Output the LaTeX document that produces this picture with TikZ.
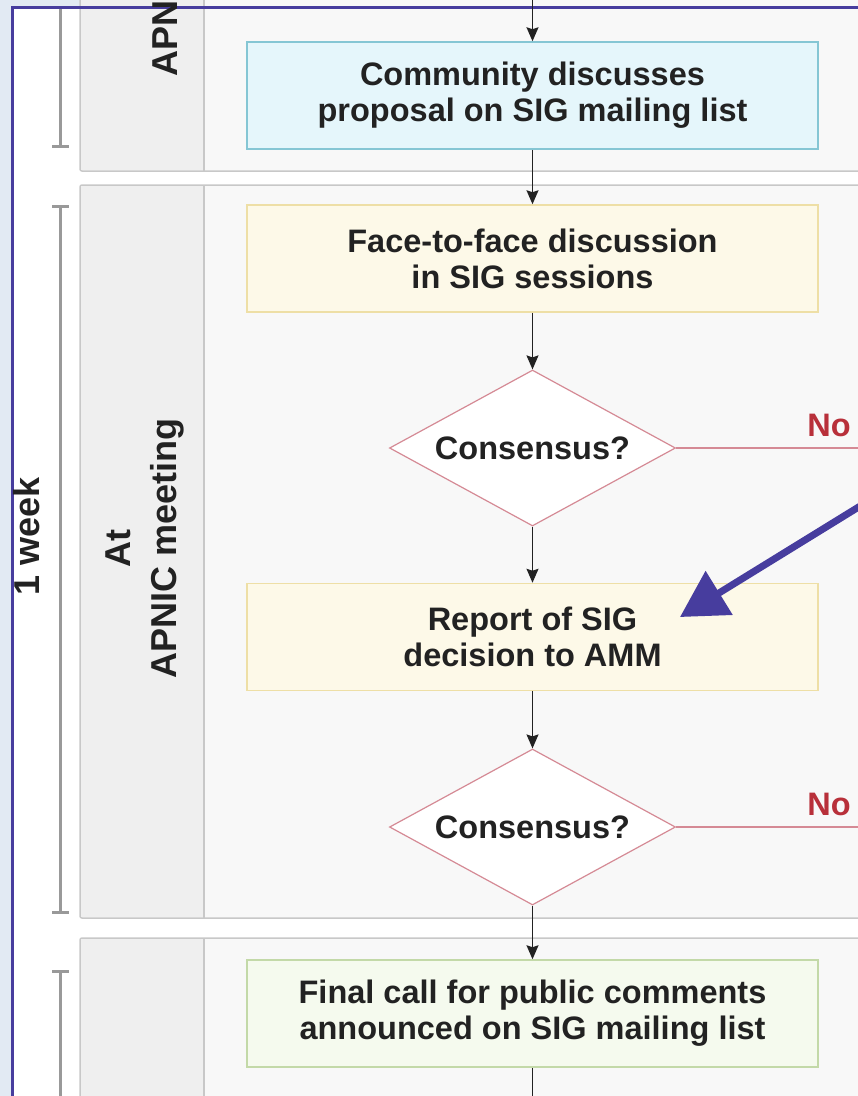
\documentclass[tikz,border=0pt]{standalone}
\usepackage{fontspec}
\setmainfont{Liberation Sans}
\usetikzlibrary{positioning, shapes.geometric, arrows.meta}

\definecolor{ink}{HTML}{222222}
\definecolor{outside}{HTML}{E2EAF3}
\definecolor{frameblue}{HTML}{473D9E}
\definecolor{lanegray}{HTML}{F8F8F8}
\definecolor{labelgray}{HTML}{EFEFEF}
\definecolor{lineg}{HTML}{C8C8C8}
\definecolor{bluefill}{HTML}{E5F6FB}
\definecolor{bluedraw}{HTML}{85C6D4}
\definecolor{creamfill}{HTML}{FDF9E8}
\definecolor{creamdraw}{HTML}{EEDFA6}
\definecolor{greenfill}{HTML}{F5FAEE}
\definecolor{greendraw}{HTML}{C3D9A8}
\definecolor{pinkdraw}{HTML}{D58A95}
\definecolor{nored}{HTML}{B8303A}

\begin{document}
\begin{tikzpicture}[x=1pt, y=-1pt, node distance=189pt, on grid,
  font=\bfseries\fontsize{32.5}{36}\selectfont, text=ink,
  box/.style={draw, line width=1.5pt, minimum width=571pt, minimum height=107pt, align=center, inner sep=0pt},
  mailbox/.style={box, fill=bluefill, draw=bluedraw},
  meetbox/.style={box, fill=creamfill, draw=creamdraw},
  callbox/.style={box, fill=greenfill, draw=greendraw},
  decision/.style={diamond, draw=pinkdraw, fill=white, line width=1.2pt, aspect=1.84, minimum width=286pt, minimum height=156pt, inner sep=0pt},
  lane/.style={fill=lanegray, draw=lineg, line width=1.5pt, rounded corners=2pt},
  lanelabel/.style={rotate=90, align=center, font=\bfseries\fontsize{36}{46}\selectfont},
  span/.style={draw=gray!80, line width=3pt},
  flow/.style={ink, line width=1.5pt, -{Stealth[length=14pt, width=12pt, inset=2pt]}},
  nope/.style={draw=pinkdraw, line width=1.5pt},
  pointer/.style={draw=frameblue, line width=7pt, -{Triangle[length=46pt, width=50pt]}}]

  \useasboundingbox (0,0) rectangle (858,1096);
  \clip (0,0) rectangle (858,1096);

  % page and frame
  \fill[outside] (0,0) rectangle (858,1096);
  \fill[white] (12,7) rectangle (900,1150);

  % lanes
  \draw[lane] (80,-20) rectangle (900,171);
  \draw[lane] (80,185) rectangle (900,918);
  \draw[lane] (80,938) rectangle (900,1150);
  \fill[labelgray] (81,-20) rectangle (204,170);
  \fill[labelgray] (81,186) rectangle (204,917);
  \fill[labelgray] (81,939) rectangle (204,1150);
  \draw[lineg, line width=1.5pt] (204,-20) -- (204,171) (204,185) -- (204,918) (204,938) -- (204,1150);
  \draw[frameblue, line width=3pt] (12,1150) -- (12,7) -- (900,7);

  \node[lanelabel, anchor=west] (apn) at (165,80) {APN};
  \node[lanelabel] (meet) at (145,548) {At\\APNIC meeting};

  % time spans
  \draw[span] (60,9) -- (60,146) (52,146) -- (69,146);
  \draw[span] (52,206) -- (69,206) (60,206) -- (60,912) (52,912) -- (69,912);
  \draw[span] (52,971) -- (69,971) (60,971) -- (60,1110);
  \node[lanelabel, font=\bfseries\fontsize{36}{40}\selectfont] (week) at (27,536) {1 week};

  % steps
  \coordinate (in) at (532.5,-2);
  \node[mailbox] (list) at (532.5,95.5) {Community discusses\\proposal on SIG mailing list};
  \node[meetbox] (f2f) [below=163pt of list] {Face-to-face discussion\\in SIG sessions};
  \node[decision] (sigok) [below=189.5pt of f2f] {Consensus?};
  \node[meetbox] (amm) [below=of sigok] {Report of SIG\\decision to AMM};
  \node[decision] (ammok) [below=190pt of amm] {Consensus?};
  \node[callbox] (call) [below=186.5pt of ammok] {Final call for public comments\\announced on SIG mailing list};
  \coordinate (out) at (532.5,1110);

  \path[flow]
    (in) edge (list)
    (list) edge (f2f)
    (f2f) edge (sigok)
    (sigok) edge (amm)
    (amm) edge (ammok)
    (ammok) edge (call);
  \draw[ink, line width=1.5pt] (call) -- (out);

  % no branches
  \coordinate (signo) at (870,0 |- sigok.east);
  \coordinate (ammno) at (870,0 |- ammok.east);
  \draw[nope] (sigok.east) -- (signo);
  \draw[nope] (ammok.east) -- (ammno);
  \node[text=nored, anchor=base] (no1) at ([xshift=-41pt, yshift=12pt]signo) {No};
  \node[text=nored, anchor=base] (no2) at ([xshift=-41pt, yshift=12pt]ammno) {No};

  % pointer
  \coordinate (ptr) at (870,500);
  \coordinate (tip) at (680,617);
  \draw[pointer] (ptr) -- (tip);
\end{tikzpicture}
\end{document}
